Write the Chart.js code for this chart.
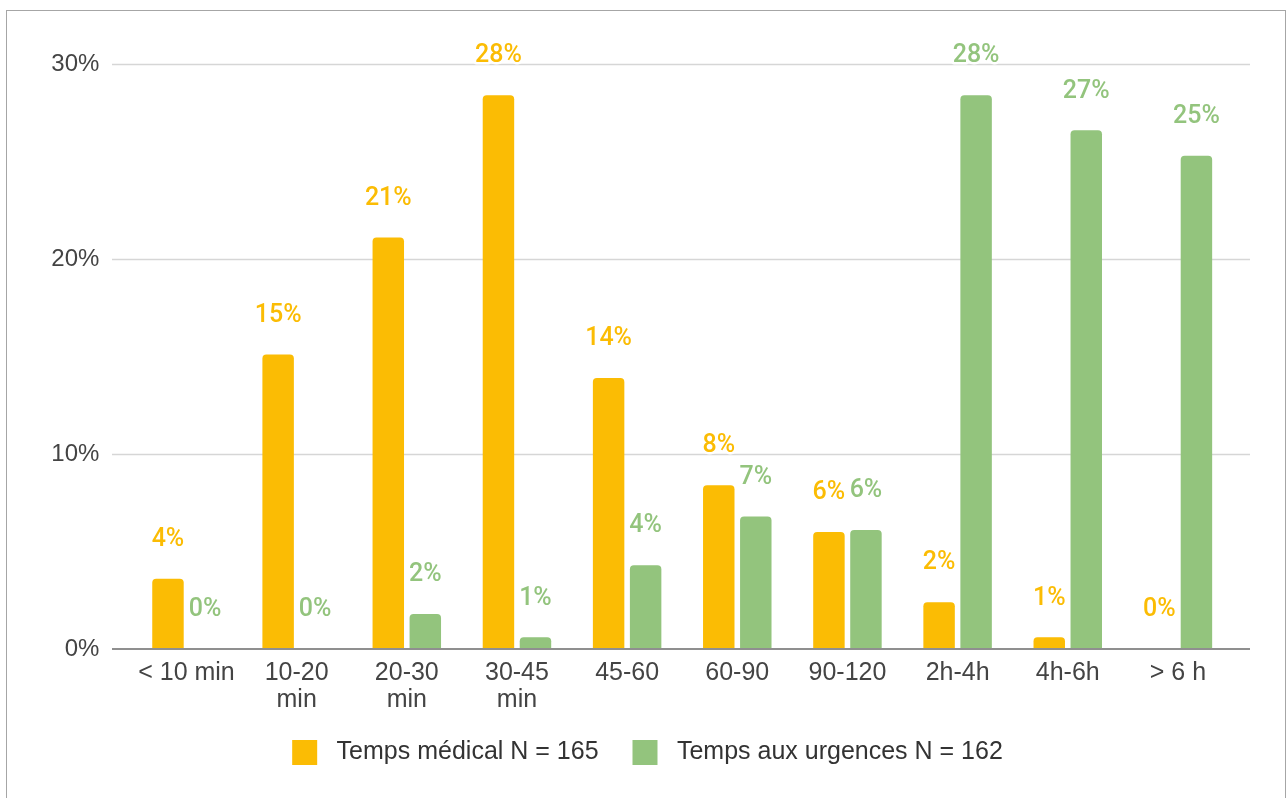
<!DOCTYPE html>
<html>
<head>
<meta charset="utf-8">
<script src="https://cdn.jsdelivr.net/npm/chart.js@4.4.1/dist/chart.umd.min.js"></script>
<style>
  html, body { margin: 0; padding: 0; background: #fff; }
  #wrap { position: relative; width: 1288px; height: 798px; overflow: hidden; }
  #frame { position: absolute; left: 6px; top: 10px; width: 1280px; height: 800px; border: 1px solid #a6a6a6; box-sizing: border-box; }
  canvas { position: absolute; left: 0; top: 0; }
</style>
</head>
<body>
<div id="wrap">
  <div id="frame"></div>
  <canvas id="chart" width="1288" height="798"></canvas>
</div>
<script>
// categories (multi-line labels as arrays)
const categories = ['< 10 min', ['10-20', 'min'], ['20-30', 'min'], ['30-45', 'min'], '45-60', '60-90', '90-120', '2h-4h', '4h-6h', '> 6 h'];
// % values
const tempsMedical = [3.6, 15.1, 21.1, 28.4, 13.9, 8.4, 6.0, 2.4, 0.6, 0];
const tempsUrgences = [0, 0, 1.8, 0.6, 4.3, 6.8, 6.1, 28.4, 26.6, 25.3];
const yTicks = [0, 10, 20, 30];

const ORANGE = '#fbbc04';
const GREEN = '#93c47d';

// gridlines wider than the plot area, like the original
const gridPlugin = {
  id: 'grid',
  beforeDatasetsDraw(chart) {
    const { ctx, scales: { y } } = chart;
    ctx.save();
    y.ticks.forEach(t => {
      if (t.value === 0) return;
      const py = Math.round(y.getPixelForValue(t.value)) + 0.5;
      ctx.strokeStyle = '#d6d6d6';
      ctx.lineWidth = 1.5;
      ctx.beginPath();
      ctx.moveTo(112, py);
      ctx.lineTo(1250, py);
      ctx.stroke();
    });
    ctx.restore();
  },
  afterDatasetsDraw(chart) {
    const { ctx, scales: { y } } = chart;
    const py = y.getPixelForValue(0);
    ctx.save();
    ctx.strokeStyle = '#8f8f8f';
    ctx.lineWidth = 2;
    ctx.beginPath();
    ctx.moveTo(112, py);
    ctx.lineTo(1250, py);
    ctx.stroke();
    ctx.restore();
  }
};

// value labels above bars
const labelPlugin = {
  id: 'valueLabels',
  afterDraw(chart) {
    const { ctx } = chart;
    ctx.save();
    ctx.font = '500 25px Roboto';
    ctx.textAlign = 'center';
    ctx.textBaseline = 'middle';
    ctx.lineJoin = 'round';
    chart.data.datasets.forEach((ds, i) => {
      const meta = chart.getDatasetMeta(i);
      meta.data.forEach((bar, j) => {
        const txt = Math.round(ds.data[j]) + '%';
        const ty = bar.y - 39;
        ctx.strokeStyle = '#fff';
        ctx.lineWidth = 5;
        ctx.strokeText(txt, bar.x, ty);
        ctx.fillStyle = ds.backgroundColor;
        ctx.fillText(txt, bar.x, ty);
      });
    });
    ctx.restore();
  }
};

new Chart(document.getElementById('chart'), {
  type: 'bar',
  data: {
    labels: categories,
    datasets: [
      {
        label: 'Temps médical N = 165',
        data: tempsMedical,
        backgroundColor: ORANGE,
        borderRadius: 4,
        categoryPercentage: 0.672,
        barPercentage: 0.85
      },
      {
        label: 'Temps aux urgences N = 162',
        data: tempsUrgences,
        backgroundColor: GREEN,
        borderRadius: 4,
        categoryPercentage: 0.672,
        barPercentage: 0.85
      }
    ]
  },
  options: {
    responsive: false,
    animation: false,
    devicePixelRatio: 1,
    layout: { padding: { left: 7, right: 0, top: 64, bottom: 23 } },
    plugins: {
      legend: {
        position: 'bottom',
        labels: {
          boxWidth: 25,
          boxHeight: 25,
          padding: 27,
          color: '#333',
          font: { family: 'Liberation Sans', size: 25 },
          generateLabels(chart) {
            const items = Chart.defaults.plugins.legend.labels.generateLabels(chart);
            items.forEach((it, i) => { it.text = ' ' + it.text + (i === 0 ? ' ' : ''); });
            return items;
          }
        }
      },
      tooltip: { enabled: false }
    },
    scales: {
      x: {
        grid: { display: false, drawTicks: false },
        border: { display: false },
        ticks: {
          color: '#444',
          padding: 11,
          maxRotation: 0,
          autoSkip: false,
          font: { family: 'Liberation Sans', size: 25, lineHeight: 1.08 }
        },
        afterFit(scale) { scale.height = 64; }
      },
      y: {
        min: 0,
        max: 30,
        grid: { display: false, drawTicks: false },
        border: { display: false },
        afterBuildTicks(scale) { scale.ticks = yTicks.map(v => ({ value: v })); },
        ticks: {
          color: '#444',
          padding: 32,
          font: { family: 'Liberation Sans', size: 24 },
          callback: v => v + '%'
        },
        afterFit(scale) { scale.width = 124.4; }
      },
      yRight: {
        position: 'right',
        display: true,
        grid: { display: false, drawTicks: false },
        border: { display: false },
        ticks: { display: false },
        afterFit(scale) { scale.width = 55; }
      }
    }
  },
  plugins: [gridPlugin, labelPlugin]
});
</script>
</body>
</html>
